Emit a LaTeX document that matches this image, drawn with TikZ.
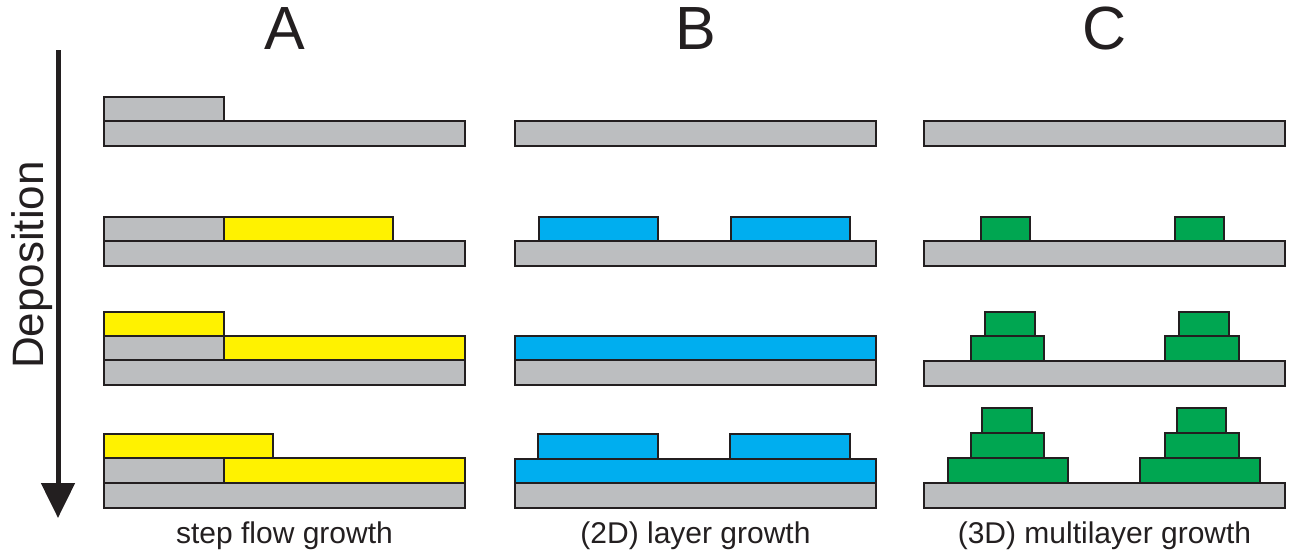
\documentclass[tikz,border=0pt]{standalone}
\usepackage{fontspec}
\setmainfont{Liberation Sans}
\usetikzlibrary{arrows.meta}
\definecolor{substr}{HTML}{BCBEC0}
\definecolor{film}{HTML}{FFF200}
\definecolor{flat}{HTML}{00AEEF}
\definecolor{island}{HTML}{00A651}
\definecolor{edge}{HTML}{231F20}
\tikzset{
  layer/.style={draw=edge, line width=2.5pt, line join=miter},
  sub/.style={layer, fill=substr},
  yel/.style={layer, fill=film},
  blu/.style={layer, fill=flat},
  grn/.style={layer, fill=island},
  head/.style={font=\fontsize{61}{61}\selectfont, text=edge, anchor=base, inner sep=0pt},
  caption/.style={font=\fontsize{30}{30}\selectfont, text=edge, anchor=base, inner sep=0pt},
}
\begin{document}
\begin{tikzpicture}[x=1pt, y=-1pt]
\useasboundingbox (0,0) rectangle (1298,558);

% column headers
\node[head] (hA) at (284.5,49) {A};
\node[head] (hB) at (695.5,49) {B};
\node[head] (hC) at (1104.5,49) {C};

% deposition arrow
\coordinate (arrtop) at (58,50);
\coordinate (arrbot) at (58,518);
\draw[edge, line width=5pt, -{Triangle[length=35pt,width=33pt]}] (arrtop) -- (arrbot);
\node[font=\fontsize{44}{44}\selectfont, text=edge, rotate=90, anchor=base, inner sep=0pt] (dep) at (43,265) {Deposition};

% ---- A: step flow growth ----
\draw[sub] (104,121) rectangle (465,146);
\draw[sub] (104,97) rectangle (224,121);

\draw[sub] (104,241) rectangle (465,266);
\draw[sub] (104,217) rectangle (224,241);
\draw[yel] (224,217) rectangle (393,241);

\draw[sub] (104,360) rectangle (465,385);
\draw[sub] (104,336) rectangle (224,360);
\draw[yel] (224,336) rectangle (465,360);
\draw[yel] (104,312) rectangle (224,336);

\draw[sub] (104,483) rectangle (465,508);
\draw[sub] (104,458) rectangle (224,483);
\draw[yel] (224,458) rectangle (465,483);
\draw[yel] (104,434) rectangle (273,458);

% ---- B: layer growth ----
\draw[sub] (515,121) rectangle (876,146);

\draw[sub] (515,241) rectangle (876,266);
\draw[blu] (539,217) rectangle (658,241);
\draw[blu] (731,217) rectangle (850,241);

\draw[sub] (515,360) rectangle (876,385);
\draw[blu] (515,336) rectangle (876,360);

\draw[sub] (515,483) rectangle (876,508);
\draw[blu] (515,459) rectangle (876,483);
\draw[blu] (538,434) rectangle (658,459);
\draw[blu] (730,434) rectangle (850,459);

% ---- C: multilayer growth ----
\draw[sub] (924,121) rectangle (1285,146);

\draw[sub] (924,241) rectangle (1285,266);
\draw[grn] (981,217) rectangle (1030,241);
\draw[grn] (1175,217) rectangle (1224,241);

\draw[sub] (924,361) rectangle (1285,386);
\draw[grn] (971,336) rectangle (1044,361);
\draw[grn] (985,312) rectangle (1035,336);
\draw[grn] (1165,336) rectangle (1239,361);
\draw[grn] (1179,312) rectangle (1229,336);

\draw[sub] (924,483) rectangle (1285,508);
\draw[grn] (948,458) rectangle (1068,483);
\draw[grn] (971,433) rectangle (1044,458);
\draw[grn] (982,408) rectangle (1032,433);
\draw[grn] (1140,458) rectangle (1260,483);
\draw[grn] (1165,433) rectangle (1239,458);
\draw[grn] (1177,408) rectangle (1226,433);

% captions
\node[caption] (capA) at (284.5,543) {step flow growth};
\node[caption] (capB) at (695.5,543) {(2D) layer growth};
\node[caption] (capC) at (1104.5,543) {(3D) multilayer growth};
\end{tikzpicture}
\end{document}
